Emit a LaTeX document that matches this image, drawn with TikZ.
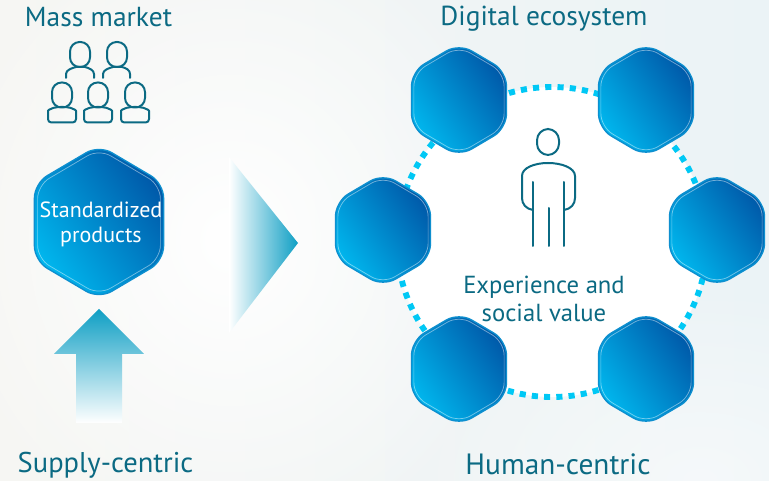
\documentclass[tikz,border=0pt]{standalone}
\usepackage{fontspec}
\setmainfont{PT Sans}
\usetikzlibrary{fadings,calc}
\definecolor{teal1}{HTML}{0B6A83}
\definecolor{hexA}{HTML}{00B7EE}
\definecolor{hexB}{HTML}{0058A8}
\definecolor{hexEdge}{HTML}{0E8FCF}
\definecolor{dotc}{HTML}{00C8F5}
\definecolor{arrowc}{HTML}{0F9FC4}
\definecolor{bgL}{HTML}{F6F6F3}
\definecolor{bgR}{HTML}{EBF3F6}
\tikzfading[name=glow,inner color=transparent!0,middle color=transparent!0,outer color=transparent!100]
\tikzset{
  lbl/.style={text=teal1,font=\fontsize{20.6}{24}\selectfont,inner sep=0pt,align=center},
  midlbl/.style={text=teal1,font=\fontsize{18.5}{21.2}\selectfont,inner sep=0pt,align=center},
  icon/.style={draw=teal1,line width=1.5pt,line cap=round,line join=round},
  hexrim/.style={draw=hexEdge,line width=1pt,rounded corners=11pt},
  hexin/.style={draw=white,draw opacity=.45,line width=.55pt,rounded corners=10pt},
  hexp/.style n args={3}{insert path={(#1,#2-#3*56.5) -- (#1+#3*47.5,#2-#3*28.5) -- (#1+#3*47.5,#2+#3*28.5) -- (#1,#2+#3*56.5) -- (#1-#3*47.5,#2+#3*28.5) -- (#1-#3*47.5,#2-#3*28.5) -- cycle}}
}
\newcommand{\hexa}[3]{%
  \shade[hexrim,left color=hexA,right color=hexB,shading angle=125,hexp={#1}{#2}{#3}];
  \path[hexin,hexp={#1}{#2}{#3*.95}];
}
\newcommand{\smallhead}[2]{\draw[icon,rounded corners=7.2pt] (#1-10,#2-12.5) rectangle (#1+10,#2+12.5);}
\begin{document}
\begin{tikzpicture}[x=0.75pt,y=-0.75pt]
\useasboundingbox (0,0) rectangle (769,481);
% background
\shade[left color=bgL,right color=bgR] (0,0) rectangle (769,481);
\fill[white,path fading=glow] (230,240) ellipse (300 and 330);
\fill[white,opacity=.5,path fading=glow] (700,480) ellipse (300 and 200);
% ring
\fill[white] (552,242) circle (155);
\draw[dotc,line width=4.4pt,dash pattern=on 4.6pt off 4.6pt] (552,242) circle (155);
% hexagons
\hexa{99}{222}{1.36}
\hexa{459}{100}{1}
\hexa{646}{100}{1}
\hexa{383}{230}{1}
\hexa{717}{230}{1}
\hexa{459}{369}{1}
\hexa{646}{369}{1}
% arrows
\shade[left color=white,right color=arrowc] (229,157) -- (298,243) -- (229,333) -- cycle;
\shade[top color=arrowc,bottom color=white] (99,309) -- (144,354) -- (122,354) -- (122,423) -- (76,423) -- (76,354) -- (54,354) -- cycle;
% people icon
\smallhead{80}{54.5}
\smallhead{117}{54.5}
\smallhead{62}{95}
\smallhead{98}{95}
\smallhead{135}{95}
\draw[icon] (66,78) -- (66,74) .. controls (66,70) and (72,68) .. (76,67) -- (85,67) .. controls (89,68) and (94,70) .. (94,74) -- (94,78);
\draw[icon] (103,78) -- (103,74) .. controls (103,70) and (109,68) .. (113,67) -- (122,67) .. controls (126,68) and (130,70) .. (130,74) -- (130,78);
\foreach \c in {62,98,135}{
  \draw[icon,rounded corners=2.5pt] (\c-14,122.5) -- (\c-14,114) .. controls (\c-14,110) and (\c-9,108) .. (\c-5,107) -- (\c+5,107) .. controls (\c+9,108) and (\c+14,110) .. (\c+14,114) -- (\c+14,122.5) -- cycle;
}
% large person
\draw[icon,rounded corners=8.5pt] (537,129) rectangle (559,155);
\draw[icon] (533,210) .. controls (526,209) and (522,204) .. (522,198) -- (522,176) .. controls (522,168) and (534,163) .. (548,163) .. controls (562,163) and (575,168) .. (575,176) -- (575,198) .. controls (575,204) and (571,209) .. (564,210);
\draw[icon] (533,182) -- (533,246);
\draw[icon] (564,182) -- (564,246);
\draw[icon] (548.5,208) -- (548.5,246);
% labels
\node[lbl] (mass) at (98.5,17) {Mass market};
\node[lbl] (digital) at (544,19) {Digital ecosystem};
\node[lbl,font=\fontsize{21.4}{24}\selectfont] (supply) at (105.5,465) {Supply-centric};
\node[lbl,font=\fontsize{22}{24}\selectfont] (human) at (558,464) {Human-centric};
\node[midlbl,text=white,font=\fontsize{16.5}{18.8}\selectfont] (std) at (101,224) {Standardized\\products};
\node[midlbl] (exp) at (544,299) {Experience and\\social value};
\end{tikzpicture}
\end{document}
